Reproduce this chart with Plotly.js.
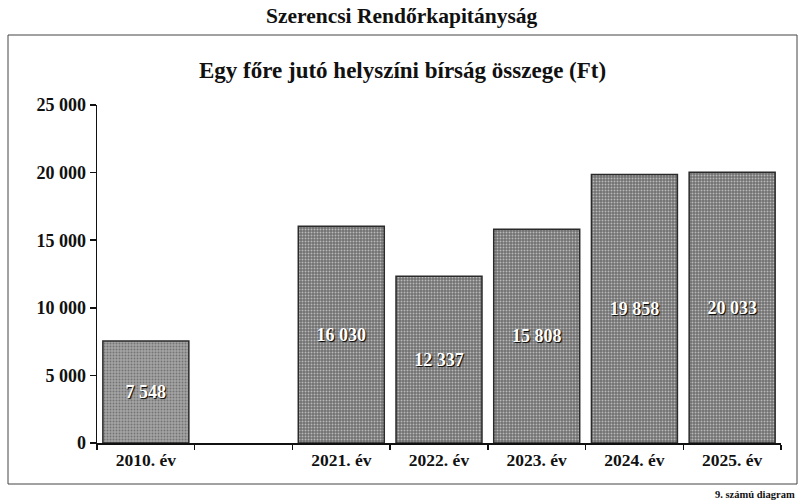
<!DOCTYPE html>
<html>
<head>
<meta charset="utf-8">
<script src="https://cdn.plot.ly/plotly-3.0.1.min.js"></script>
<style>
  html, body { margin: 0; padding: 0; background: white; }
  #chart { width: 804px; height: 503px; }
</style>
</head>
<body>
<div id="chart"></div>
<script>
// Egy főre jutó helyszíni bírság — Szerencsi Rendőrkapitányság
const categories = ['2010. év', ' ', '2021. év', '2022. év', '2023. év', '2024. év', '2025. év'];
const values = [7548, null, 16030, 12337, 15808, 19858, 20033];
const labels = ['7 548', '', '16 030', '12 337', '15 808', '19 858', '20 033'];
const barColors = ['#a4a4a4', '#707070', '#707070', '#707070', '#707070', '#707070', '#707070'];
const yTicks = [0, 5000, 10000, 15000, 20000, 25000];
const yTickText = ['0', '5 000', '10 000', '15 000', '20 000', '25 000'];

const SERIF = 'Liberation Serif, DejaVu Serif, serif';

const trace = {
    type: 'bar',
    x: categories, y: values,
    text: labels,
    textposition: 'inside', insidetextanchor: 'middle',
    textangle: 0,
    textfont: { family: SERIF, size: 18, color: 'white', weight: 'bold', shadow: '1px 1px 1px #000' },
    marker: {
        color: barColors,
        line: { color: '#2a2a2a', width: 1.5 },
        pattern: { shape: '.', fillmode: 'overlay', fgcolor: '#3c3c3c', fgopacity: 0.5, size: 3, solidity: 0.35 },
    },
    width: 0.88,
    hoverinfo: 'skip',
};

// box around the chart, in paper coords relative to the plot area
const L = 97, R = 23, T = 105, B = 60;
const pw = 804 - L - R, ph = 503 - T - B;
const px = (x) => (x - L) / pw;
const py = (y) => (503 - B - y) / ph;

const layout = {
    width: 804, height: 503,
    paper_bgcolor: 'white', plot_bgcolor: 'white',
    margin: { l: L, r: R, t: T, b: B },
    showlegend: false,
    separators: '. ',
    font: { family: SERIF, color: '#111' },
    xaxis: {
        type: 'category',
        showgrid: false, zeroline: false,
        showline: true, linecolor: '#111', linewidth: 1.5,
        ticks: 'outside', ticklen: 5, tickcolor: '#111', tickwidth: 1.5,
        tickson: 'boundaries',
        tickfont: { family: SERIF, size: 17.5, color: '#111', weight: 'bold' },
        fixedrange: true,
    },
    yaxis: {
        range: [0, 25000],
        tickvals: yTicks, ticktext: yTickText,
        showgrid: false, zeroline: false,
        showline: true, linecolor: '#111', linewidth: 1.5,
        ticks: 'outside', ticklen: 6, tickcolor: '#111', tickwidth: 1.5,
        tickfont: { family: SERIF, size: 18, color: '#111', weight: 'bold' },
        fixedrange: true,
    },
    shapes: [
        { type: 'rect', xref: 'paper', yref: 'paper',
          x0: px(8), x1: px(797), y0: py(484), y1: py(35),
          line: { color: '#444', width: 1 }, layer: 'below' },
    ],
    annotations: [
        { text: 'Szerencsi Rendőrkapitányság', xref: 'paper', yref: 'paper',
          x: px(402), y: py(16), xanchor: 'center', yanchor: 'middle', showarrow: false,
          font: { family: SERIF, size: 21.5, color: '#111', weight: 'bold' } },
        { text: 'Egy főre jutó helyszíni bírság összege (Ft)', xref: 'paper', yref: 'paper',
          x: px(402), y: py(70), xanchor: 'center', yanchor: 'middle', showarrow: false,
          font: { family: SERIF, size: 23, color: '#111', weight: 'bold' } },
        { text: '9. számú diagram', xref: 'paper', yref: 'paper',
          x: px(797), y: py(495), xanchor: 'right', yanchor: 'middle', showarrow: false,
          font: { family: SERIF, size: 10.5, color: '#111', weight: 'bold' } },
    ],
};

Plotly.newPlot('chart', [trace], layout, { displayModeBar: false, staticPlot: true });
</script>
</body>
</html>
